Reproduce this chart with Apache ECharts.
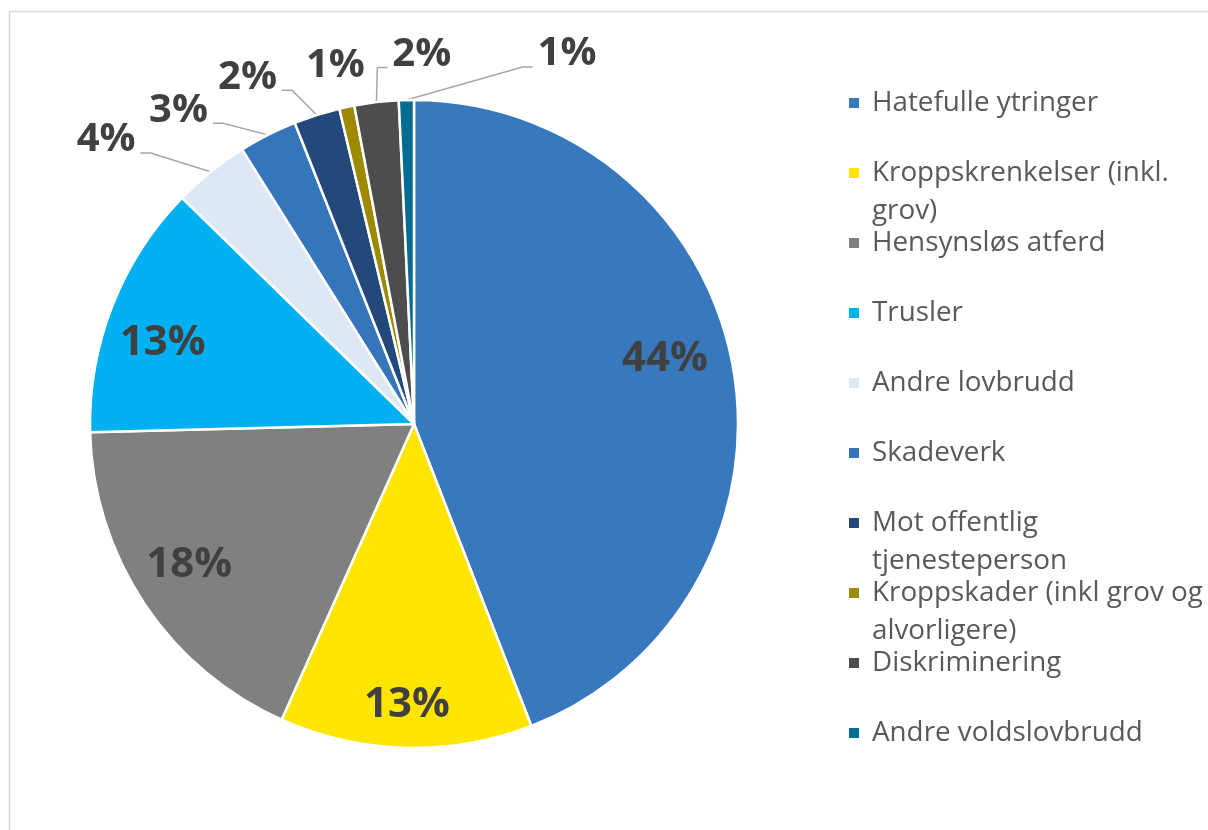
<!DOCTYPE html>
<html>
<head>
<meta charset="utf-8">
<script src="https://cdn.jsdelivr.net/npm/echarts@6/dist/echarts.min.js"></script>
<style>
html, body { margin: 0; padding: 0; background: #fff; }
#chart { width: 1208px; height: 830px; }
</style>
</head>
<body>
<div id="chart"></div>
<script>
// kategorier, i rekkefølge med klokka fra toppen
const categories = [
    'Hatefulle ytringer',
    'Kroppskrenkelser (inkl. grov)',
    'Hensynsløs atferd',
    'Trusler',
    'Andre lovbrudd',
    'Skadeverk',
    'Mot offentlig tjenesteperson',
    'Kroppskader (inkl grov og alvorligere)',
    'Diskriminering',
    'Andre voldslovbrudd'
]
// andel i prosent, lest av vinklene i figuren
const shares = [44.1, 12.6, 17.9, 12.7, 3.8, 2.9, 2.3, 0.75, 2.2, 0.75]
const colors = ['#3878BD', '#FFE500', '#808080', '#00B0F0', '#DEE8F5',
                '#3576BA', '#22497A', '#9E8A00', '#4D4D4D', '#006C8F']

// legenden bryter linjene slik som i originalen
const legendLines = {
    'Kroppskrenkelser (inkl. grov)': ['Kroppskrenkelser (inkl.', 'grov)'],
    'Mot offentlig tjenesteperson': ['Mot offentlig', 'tjenesteperson'],
    'Kroppskader (inkl grov og alvorligere)': ['Kroppskader (inkl grov og', 'alvorligere)']
}

const PIE_CX = 414
const PIE_CY = 424
const PIE_R = 324
const LABEL_LIFT = 13
const LABEL_GAP = 5
const FONT = 'Open Sans'

// etiketter inne i sektoren: [avstand som andel av radius, vinkeljustering i grader]
const insideLabels = { 0: [0.8, -4], 1: [0.867, 0], 2: [0.82, 1.5], 3: [0.815, -3.5] }

// små sektorer får etikett utenfor: [lengde, lengde2, vis linje, etikett til høyre]
const outsideLabels = {
    4: [24, 55, true, false],
    5: [13, 49, true, false],
    6: [26, 27, true, false],
    7: [29, -29, false, false],
    8: [35, 15, true, true],
    9: [33, 127, true, true]
}

const chart = echarts.init(document.getElementById('chart'))

const pieData = categories.map((name, i) => {
    const item = { name: name, value: shares[i], itemStyle: { color: colors[i] } }
    const o = outsideLabels[i]
    if (o) {
        item.label = { position: 'outside', fontSize: 40 }
        item.labelLine = { show: o[2], length: o[0], length2: o[1] }
    }
    return item
})

const option = {
    animation: false,
    backgroundColor: '#fff',
    graphic: [{
        type: 'rect',
        z: -1,
        shape: { x: 9.5, y: 11.5, width: 1300, height: 1000 },
        style: { fill: 'none', stroke: '#D9D9D9', lineWidth: 1.5 }
    }],
    legend: {
        orient: 'vertical',
        left: 847,
        top: 46,
        padding: 0,
        icon: 'rect',
        itemWidth: 12,
        itemHeight: 12,
        itemGap: -44,
        selectedMode: false,
        data: categories,
        formatter: name => {
            const l = legendLines[name] || [name, '']
            // tom linje først så ikonet står ved første linje
            return '\n' + l[0] + '\n' + l[1]
        },
        textStyle: {
            fontFamily: FONT,
            fontSize: 27.8,
            lineHeight: 38,
            color: '#595959',
            padding: [0, 0, 0, 7]
        }
    },
    series: [{
        type: 'pie',
        center: [PIE_CX, PIE_CY],
        radius: PIE_R,
        startAngle: 90,
        clockwise: true,
        avoidLabelOverlap: false,
        emphasis: { disabled: true },
        itemStyle: { borderColor: '#fff', borderWidth: 2.5 },
        label: {
            show: true,
            position: 'inside',
            formatter: p => Math.round(p.percent) + '%',
            fontFamily: FONT,
            fontWeight: 'bold',
            fontSize: 42,
            color: '#404040'
        },
        labelLine: {
            show: false,
            smooth: false,
            lineStyle: { color: '#A6A6A6', width: 1.5 }
        },
        labelLayout: p => {
            const i = p.dataIndex
            const lr = p.labelRect
            const lx = lr.x + lr.width / 2
            const ly = lr.y + lr.height / 2
            const o = outsideLabels[i]
            if (!o) {
                // flytt etiketten utover langs radien
                const s = insideLabels[i]
                const a = Math.atan2(ly - PIE_CY, lx - PIE_CX) + s[1] * Math.PI / 180
                return {
                    x: PIE_CX + Math.cos(a) * PIE_R * s[0],
                    y: PIE_CY + Math.sin(a) * PIE_R * s[0]
                }
            }
            const out = { y: ly - LABEL_LIFT }
            const pts = p.labelLinePoints
            if (!pts) return out
            let x3 = lr.x + lr.width + LABEL_GAP
            let dir = -1
            if (o[3]) {
                x3 = 2 * pts[1][0] - x3
                dir = 1
                out.x = x3 + LABEL_GAP
                out.align = 'left'
            }
            out.labelLinePoints = [pts[0], [x3 - dir * 10, ly], [x3, ly]]
            return out
        },
        data: pieData
    }]
}

chart.setOption(option)
</script>
</body>
</html>
